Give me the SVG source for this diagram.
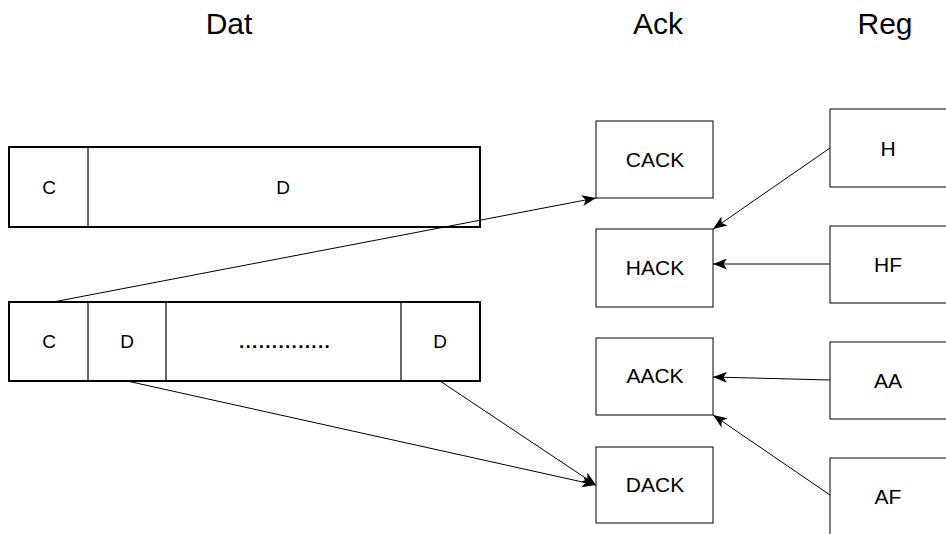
<svg xmlns="http://www.w3.org/2000/svg" width="946" height="534" viewBox="0 0 946 534">
  <defs>
    <style>
      .frame { fill: #fff; stroke: #000; stroke-width: 2; }
      .cell { fill: none; stroke: #000; stroke-width: 1.2; }
      .box { fill: #fff; stroke: #000; stroke-width: 1; }
      .lbl { font-family: "Liberation Sans", Arial, sans-serif; font-size: 19px; text-anchor: middle; fill: #000; }
      .node { font-family: "Liberation Sans", Arial, sans-serif; font-size: 21px; text-anchor: middle; fill: #000; }
      .title { font-family: "Liberation Sans", Arial, sans-serif; font-size: 30px; text-anchor: middle; fill: #000; }
      .conn { stroke: #000; stroke-width: 1; fill: none; marker-end: url(#arrow); }
    </style>
    <marker id="arrow" viewBox="0 0 14 11" refX="14" refY="5.5" markerWidth="14" markerHeight="11" markerUnits="userSpaceOnUse" orient="auto">
      <path d="M0,0 L14,5.5 L0,11 L3.5,5.5 Z" fill="#000"/>
    </marker>
  </defs>

  <rect width="946" height="534" fill="#fff"/>

  <!-- column headings -->
  <text class="title" x="229" y="34">Dat</text>
  <text class="title" x="658" y="34">Ack</text>
  <text class="title" x="885" y="34">Reg</text>

  <!-- first data frame -->
  <g id="frame1">
    <rect class="frame" x="9" y="147" width="471" height="80"/>
    <line class="cell" x1="88" y1="147" x2="88" y2="227"/>
    <text class="lbl" x="49" y="194">C</text>
    <text class="lbl" x="283" y="194">D</text>
  </g>

  <!-- second data frame -->
  <g id="frame2">
    <rect class="frame" x="9" y="302" width="471" height="79"/>
    <line class="cell" x1="88" y1="302" x2="88" y2="381"/>
    <line class="cell" x1="166" y1="302" x2="166" y2="381"/>
    <line class="cell" x1="401" y1="302" x2="401" y2="381"/>
    <text class="lbl" x="49" y="348">C</text>
    <text class="lbl" x="127" y="348">D</text>
    <text class="lbl" x="285" y="348" font-size="16" font-weight="bold" letter-spacing="1.3">..............</text>
    <text class="lbl" x="440" y="348">D</text>
  </g>

  <!-- acknowledgement boxes -->
  <g id="cack"><rect class="box" x="596" y="121" width="117" height="77"/><text class="node" x="655" y="167">CACK</text></g>
  <g id="hack"><rect class="box" x="596" y="229" width="117" height="78"/><text class="node" x="655" y="275">HACK</text></g>
  <g id="aack"><rect class="box" x="596" y="338" width="117" height="77"/><text class="node" x="655" y="383">AACK</text></g>
  <g id="dack"><rect class="box" x="596" y="447" width="117" height="76"/><text class="node" x="655" y="492">DACK</text></g>

  <!-- register boxes -->
  <g id="h"><rect class="box" x="830" y="109" width="130" height="78"/><text class="node" x="888" y="156">H</text></g>
  <g id="hf"><rect class="box" x="830" y="226" width="130" height="77"/><text class="node" x="888" y="272">HF</text></g>
  <g id="aa"><rect class="box" x="830" y="342" width="130" height="77"/><text class="node" x="888" y="388">AA</text></g>
  <g id="af"><rect class="box" x="830" y="458" width="130" height="90"/><text class="node" x="888" y="504">AF</text></g>

  <!-- connectors -->
  <g id="connectors">
    <line class="conn" x1="53" y1="302" x2="596" y2="198"/>
    <line class="conn" x1="830" y1="148" x2="713" y2="229"/>
    <line class="conn" x1="830" y1="264" x2="713" y2="264"/>
    <line class="conn" x1="830" y1="380" x2="713" y2="377"/>
    <line class="conn" x1="830" y1="495" x2="713" y2="415"/>
    <line class="conn" x1="127" y1="381" x2="596" y2="485"/>
    <line class="conn" x1="440" y1="381" x2="596" y2="485"/>
  </g>
</svg>
